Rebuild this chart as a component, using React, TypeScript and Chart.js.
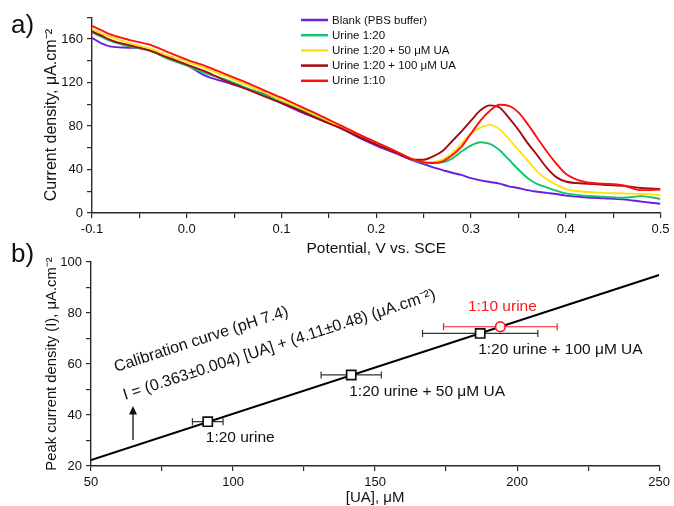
import React, { useEffect, useRef } from 'react';
import { Chart, registerables } from 'chart.js';

Chart.register(...registerables);

const FONT = '"Liberation Sans", Arial, Helvetica, sans-serif';
Chart.defaults.font.family = FONT;
Chart.defaults.color = '#111';

// ---------- Panel a: voltammograms ----------
const potentials = [-0.10, -0.09, -0.08, -0.06, -0.04, -0.02, 0.00, 0.02, 0.04, 0.06, 0.08, 0.10, 0.12, 0.14, 0.16, 0.18, 0.20, 0.22, 0.24, 0.25, 0.26, 0.27, 0.28, 0.29, 0.30, 0.31, 0.32, 0.33, 0.34, 0.35, 0.36, 0.37, 0.38, 0.39, 0.40, 0.42, 0.44, 0.46, 0.48, 0.50];

const blankPBS = [161, 156, 153, 152, 150, 142, 136, 126, 120.5, 115, 110, 101, 93, 86, 79, 70, 62, 55, 48, 45, 42, 39.5, 37, 35, 32, 30, 28.5, 27, 24.5, 23, 21, 19.5, 18.5, 17.5, 16, 14.5, 13.5, 12.5, 10.5, 8.5];
const urine20 = [166, 162, 158, 153, 149.5, 142, 135.5, 128.5, 123, 116, 109, 102, 95, 87, 80, 72.5, 64.5, 57, 48.5, 46.5, 46, 46.5, 50, 56.5, 62, 65, 63.5, 58, 49, 40, 32, 26.5, 23.5, 20.5, 18, 16, 15, 14, 15.5, 13];
const urine20UA50 = [169, 165, 162, 156, 151.5, 145, 139, 133, 126, 119, 111.5, 104, 96.5, 88.5, 80, 72, 64, 57, 49, 47.5, 47, 49, 55, 64, 73, 78.5, 81, 77, 68, 58, 48, 38, 31, 26, 22, 19.5, 18.5, 18, 17.5, 16.5];
const urine20UA100 = [167, 163, 159, 154, 149.5, 143, 136.5, 130, 122, 115, 108, 101, 94, 86, 79, 71, 63, 56, 49, 49, 52, 57, 66, 75, 85, 94.5, 99, 97, 87.5, 76.5, 64, 53, 41.5, 33, 29, 27, 26, 25, 23, 22];
const urine10 = [172, 168, 164, 159, 155, 148, 141, 135, 128, 121, 113.5, 106, 98, 90, 81.5, 73, 65, 57, 49, 46.5, 46, 47.5, 53, 61, 73, 85, 94, 99.5, 98.5, 92.5, 81.5, 69, 56.5, 45.5, 36, 28.5, 27, 25.5, 21, 21.5];

const seriesLabels = ['Blank (PBS buffer)', 'Urine 1:20', 'Urine 1:20 + 50 μM UA', 'Urine 1:20 + 100 μM UA', 'Urine 1:10'];
const seriesValues = [blankPBS, urine20, urine20UA50, urine20UA100, urine10];
const seriesColors = ['#6A1FE0', '#12C46E', '#FFE10A', '#A30C0C', '#FF1010'];

const potentialTicks = [-0.1, -0.05, 0, 0.05, 0.1, 0.15, 0.2, 0.25, 0.3, 0.35, 0.4, 0.45, 0.5];
const potentialTickLabels = [-0.1, 0, 0.1, 0.2, 0.3, 0.4, 0.5];
const currentTicks = [0, 20, 40, 60, 80, 100, 120, 140, 160, 180];
const currentTickLabels = [0, 40, 80, 120, 160];

// ---------- Panel b: calibration ----------
const sampleUA = [91.1, 141.6, 187.0];
const samplePeak = [37.4, 55.7, 72.0];
const sampleUAErr = [5.4, 10.6, 20.3];
const sampleLabels = ['1:20 urine', '1:20 urine + 50 μM UA', '1:20 urine + 100 μM UA'];

const urine110UA = [194.1];
const urine110Peak = [74.6];
const urine110UAErr = [20.0];
const urine110Labels = ['1:10 urine'];

const fitUA = [50, 250];
const fitPeak = [22.3, 94.9];
const calibrationTitle = 'Calibration curve (pH 7.4)';
const calibrationEquation = 'I = (0.363±0.004) [UA] + (4.11±0.48) (μA.cm⁻²)';

const uaTicks = [50, 75, 100, 125, 150, 175, 200, 225, 250];
const uaTickLabels = [50, 100, 150, 200, 250];
const peakTicks = [20, 30, 40, 50, 60, 70, 80, 90, 100];
const peakTickLabels = [20, 40, 60, 80, 100];

const AXIS = '#2a2a2a';

function labelFrom(list: number[], digits: number) {
  return (v: any) => {
    const n = Number(v);
    const m = list.find((t) => Math.abs(t - n) < 1e-6);
    return m === undefined ? '' : m.toFixed(digits);
  };
}

function axis(ticksAll: number[], labels: number[], digits: number, title: string, titleSize: number, titlePad: any, min: number, max: number, fit: (s: any) => void) {
  return {
    type: 'linear',
    min,
    max,
    afterBuildTicks: (s: any) => {
      s.ticks = ticksAll.map((v) => ({ value: v }));
    },
    afterFit: fit,
    ticks: {
      autoSkip: false,
      maxRotation: 0,
      padding: 4,
      color: '#111',
      font: { size: 13, family: FONT },
      callback: labelFrom(labels, digits),
    },
    grid: { drawOnChartArea: false, drawTicks: true, tickLength: 5, color: AXIS, lineWidth: 1.2 },
    border: { display: true, color: AXIS, width: 1.4 },
    title: { display: true, text: title, color: '#111', font: { size: titleSize, family: FONT }, padding: titlePad },
  };
}

const panelAPlugin = {
  id: 'panelA',
  afterDraw(chart: any) {
    const ctx = chart.ctx;
    ctx.save();
    ctx.font = `11.5px ${FONT}`;
    ctx.textBaseline = 'middle';
    ctx.textAlign = 'left';
    chart.data.datasets.forEach((ds: any, i: number) => {
      const y = 20 + i * 15.2;
      ctx.strokeStyle = ds.borderColor;
      ctx.lineWidth = 2.5;
      ctx.beginPath();
      ctx.moveTo(301, y);
      ctx.lineTo(328, y);
      ctx.stroke();
      ctx.fillStyle = '#111';
      ctx.fillText(ds.label, 332, y + 0.5);
    });
    ctx.font = `26px ${FONT}`;
    ctx.textBaseline = 'alphabetic';
    ctx.fillStyle = '#111';
    ctx.fillText('a)', 11, 33);
    ctx.restore();
  },
};

const panelBPlugin = {
  id: 'panelB',
  beforeDatasetsDraw(chart: any) {
    const { ctx } = chart;
    const xs = chart.scales.x;
    const ys = chart.scales.y;
    ctx.save();
    chart.data.datasets.forEach((ds: any) => {
      if (!ds.xErr) return;
      ctx.strokeStyle = ds.errorColor;
      ctx.lineWidth = 1.2;
      ds.data.forEach((p: any, i: number) => {
        const e = ds.xErr[i];
        const x0 = xs.getPixelForValue(p.x - e);
        const x1 = xs.getPixelForValue(p.x + e);
        const y = ys.getPixelForValue(p.y);
        ctx.beginPath();
        ctx.moveTo(x0, y);
        ctx.lineTo(x1, y);
        ctx.moveTo(x0, y - 3.5);
        ctx.lineTo(x0, y + 3.5);
        ctx.moveTo(x1, y - 3.5);
        ctx.lineTo(x1, y + 3.5);
        ctx.stroke();
      });
    });
    ctx.restore();
  },
  afterDraw(chart: any) {
    const { ctx, chartArea } = chart;
    const xs = chart.scales.x;
    const ys = chart.scales.y;
    ctx.save();
    ctx.font = `15.5px ${FONT}`;
    ctx.textBaseline = 'middle';
    chart.data.datasets.forEach((ds: any) => {
      if (!ds.pointLabels) return;
      ctx.fillStyle = ds.labelColor;
      ds.data.forEach((p: any, i: number) => {
        const px = xs.getPixelForValue(p.x);
        const py = ys.getPixelForValue(p.y);
        if (ds.labelAbove) {
          ctx.textAlign = 'center';
          ctx.fillText(ds.pointLabels[i], px + 2, py - 20.5);
        } else {
          ctx.textAlign = 'left';
          ctx.fillText(ds.pointLabels[i], px - 2, py + 16.5);
        }
      });
    });

    // calibration annotation, parallel to the fit line
    const ang = Math.atan2(
      ys.getPixelForValue(fitPeak[0]) - ys.getPixelForValue(fitPeak[1]),
      xs.getPixelForValue(fitUA[1]) - xs.getPixelForValue(fitUA[0])
    );
    ctx.fillStyle = '#111';
    ctx.textAlign = 'left';
    ctx.textBaseline = 'alphabetic';
    ctx.font = `16px ${FONT}`;
    ctx.save();
    ctx.translate(chartArea.left + 25, chartArea.top + 110);
    ctx.rotate(-ang);
    ctx.fillText(calibrationTitle, 0, 0);
    ctx.restore();
    ctx.save();
    ctx.translate(chartArea.left + 34, chartArea.top + 138);
    ctx.rotate(-ang);
    ctx.fillText(calibrationEquation, 0, 0);
    ctx.restore();

    // arrow
    const ax = chartArea.left + 42;
    const tipY = chartArea.top + 144;
    const tailY = chartArea.top + 178;
    ctx.strokeStyle = '#111';
    ctx.lineWidth = 1.3;
    ctx.beginPath();
    ctx.moveTo(ax, tailY);
    ctx.lineTo(ax, tipY + 6);
    ctx.stroke();
    ctx.beginPath();
    ctx.moveTo(ax, tipY);
    ctx.lineTo(ax - 4, tipY + 8.5);
    ctx.lineTo(ax + 4, tipY + 8.5);
    ctx.closePath();
    ctx.fill();

    ctx.font = `26px ${FONT}`;
    ctx.fillText('b)', 11, 22);
    ctx.restore();
  },
};

function PanelA() {
  const ref = useRef<HTMLCanvasElement>(null);
  useEffect(() => {
    const datasets = seriesLabels.map((label, i) => ({
      label,
      data: potentials.map((x, j) => ({ x, y: seriesValues[i][j] })),
      borderColor: seriesColors[i],
      backgroundColor: seriesColors[i],
      borderWidth: 1.9,
      pointRadius: 0,
      fill: false,
      cubicInterpolationMode: 'monotone',
      order: seriesLabels.length - i,
    }));
    const chart = new Chart(ref.current as HTMLCanvasElement, {
      type: 'line',
      data: { datasets } as any,
      options: {
        responsive: false,
        animation: false,
        devicePixelRatio: 1,
        layout: { padding: { left: 0, right: 13.5, top: 17.25, bottom: 0 } },
        plugins: { legend: { display: false }, tooltip: { enabled: false } },
        scales: {
          x: axis(potentialTicks, potentialTickLabels, 1, 'Potential, V vs. SCE', 15.5, { top: 0, bottom: -2 }, -0.1, 0.5, (s: any) => { s.height = 43; }),
          y: axis(currentTicks, currentTickLabels, 0, 'Current density, μA.cm⁻²', 16, { top: 42, bottom: 0 }, 0, 180, (s: any) => { s.width = 92; }),
        },
      } as any,
      plugins: [panelAPlugin],
    });
    return () => chart.destroy();
  }, []);
  return <canvas ref={ref} width={674} height={256} style={{ position: 'absolute', left: 0, top: 0 }} />;
}

function PanelB() {
  const ref = useRef<HTMLCanvasElement>(null);
  useEffect(() => {
    const datasets = [
      {
        label: '1:10 urine',
        data: urine110UA.map((x, i) => ({ x, y: urine110Peak[i] })),
        xErr: urine110UAErr,
        errorColor: '#FF1A1A',
        pointLabels: urine110Labels,
        labelColor: '#FF1A1A',
        labelAbove: true,
        pointStyle: 'circle',
        pointRadius: 4.8,
        pointBorderWidth: 1.7,
        borderColor: '#FF1A1A',
        backgroundColor: '#ffffff',
        showLine: false,
        order: 0,
      },
      {
        label: 'Samples',
        data: sampleUA.map((x, i) => ({ x, y: samplePeak[i] })),
        xErr: sampleUAErr,
        errorColor: '#333',
        pointLabels: sampleLabels,
        labelColor: '#111',
        pointStyle: 'rect',
        pointRadius: 6.5,
        pointBorderWidth: 1.7,
        borderColor: '#111',
        backgroundColor: '#ffffff',
        showLine: false,
        order: 1,
      },
      {
        label: 'Calibration',
        data: fitUA.map((x, i) => ({ x, y: fitPeak[i] })),
        showLine: true,
        borderColor: '#000',
        borderWidth: 2,
        pointRadius: 0,
        fill: false,
        order: 2,
      },
    ];
    const chart = new Chart(ref.current as HTMLCanvasElement, {
      type: 'scatter',
      data: { datasets } as any,
      options: {
        responsive: false,
        animation: false,
        devicePixelRatio: 1,
        layout: { padding: { left: 0, right: 14, top: 22, bottom: 0 } },
        plugins: { legend: { display: false }, tooltip: { enabled: false } },
        scales: {
          x: axis(uaTicks, uaTickLabels, 0, '[UA], μM', 15, { top: 0, bottom: -1 }, 50, 250, (s: any) => { s.height = 40; }),
          y: axis(peakTicks, peakTickLabels, 0, 'Peak current density (I), μA.cm⁻²', 14.8, { top: 43, bottom: 0 }, 20, 100, (s: any) => { s.width = 91; }),
        },
      } as any,
      plugins: [panelBPlugin],
    });
    return () => chart.destroy();
  }, []);
  return <canvas ref={ref} width={674} height={266} style={{ position: 'absolute', left: 0, top: 240 }} />;
}

export default function App() {
  return (
    <div style={{ position: 'fixed', left: 0, top: 0, width: 674, height: 506, background: '#fff', fontFamily: FONT }}>
      <PanelA />
      <PanelB />
    </div>
  );
}
